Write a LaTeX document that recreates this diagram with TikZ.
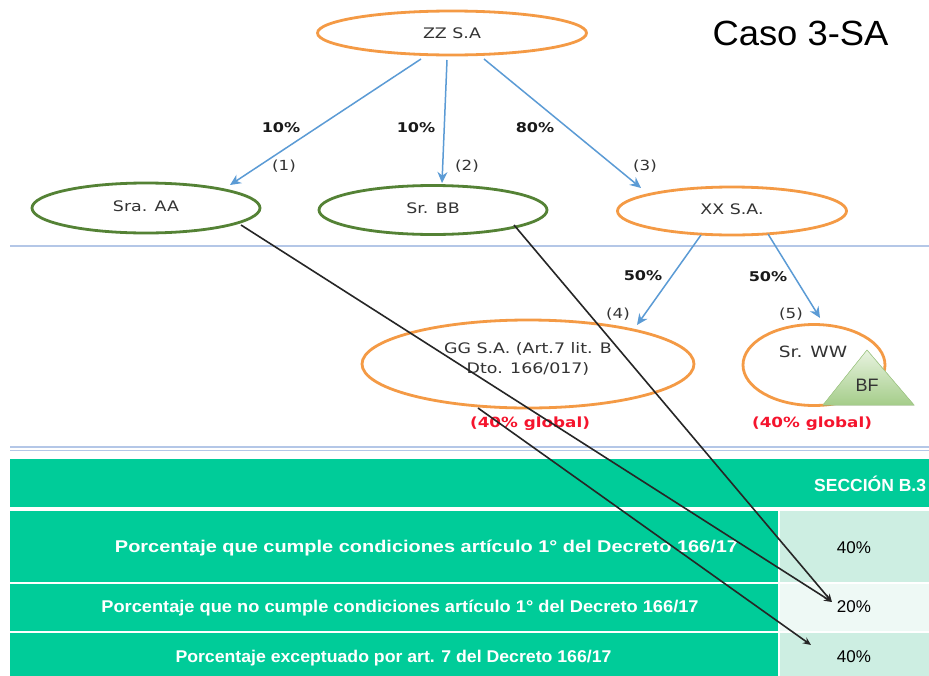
\documentclass[tikz,border=0pt]{standalone}
\usepackage{fontspec}
\usepackage{graphicx}
\setmainfont{Liberation Sans}
\newfontfamily\dv[FakeStretch=1.2]{DejaVu Sans}
\usetikzlibrary{shapes.geometric,calc,arrows.meta}
\definecolor{tealg}{HTML}{00CC99}
\definecolor{cellA}{HTML}{CDEEE2}
\definecolor{cellB}{HTML}{EEF9F5}
\definecolor{orng}{HTML}{F49A45}
\definecolor{grn}{HTML}{548235}
\definecolor{blu}{HTML}{5B9BD5}
\definecolor{rule}{HTML}{B4C7E7}
\definecolor{redg}{HTML}{F5142D}
\definecolor{triT}{HTML}{E8F3E0}
\definecolor{triB}{HTML}{A5CD8A}
\tikzset{
  every node/.style={inner sep=0pt,outer sep=0pt},
  ell/.style={ellipse,draw,line width=2.8pt,inner sep=0pt,font=\dv\fontsize{14.5}{20}\selectfont,text=black!80,align=center},
  org/.style={ell,draw=orng},
  gre/.style={ell,draw=grn},
  pct/.style={font=\dv\bfseries\fontsize{13.4}{16}\selectfont,text=black!90},
  num/.style={font=\dv\fontsize{13.9}{16}\selectfont,text=black!80},
  glob/.style={font=\dv\bfseries\fontsize{14}{16}\selectfont,text=redg},
  barr/.style={draw=blu,line width=1.5pt,-{Stealth[length=11pt,width=10pt]}},
  karr/.style={draw=black!85,line width=1.6pt,-{Stealth[length=8pt,width=7pt]}},
  lab/.style={fill=tealg,text=white,font=\bfseries\fontsize{17}{20}\selectfont},
  val/.style={text=black,font=\fontsize{17}{20}\selectfont},
  hl/.style={draw=rule,line width=1.4pt}
}
\begin{document}
\begin{tikzpicture}[x=1pt,y=-1pt]
\useasboundingbox (0,0) rectangle (929,675);
\fill[white] (0,0) rectangle (929,675);
% rules
\draw[hl] (10,246) -- (929,246);
\draw[hl] (10,447) -- (929,447);
\draw[hl,line width=.8pt] (10,450) -- (929,450);
% table
\node[lab,minimum width=919pt,minimum height=48pt] (head) at (469.5,483) {};
\node[anchor=east,text=white,font=\bfseries\fontsize{17.5}{20}\selectfont] (seccion) at (926,484) {SECCIÓN B.3};
\node[lab,minimum width=768pt,minimum height=71pt] (r1) at (394,546) {};
\node[lab,minimum width=768pt,minimum height=47pt] (r2) at (394,607.5) {};
\node[lab,minimum width=768pt,minimum height=43pt] (r3) at (394,654) {};
\node[lab] (t1) at (426.5,548) {\scalebox{1.173}[1]{Porcentaje que cumple condiciones artículo 1° del Decreto 166/17}};
\node[lab] (t2) at (400,608) {\scalebox{1.073}[1]{Porcentaje que no cumple condiciones artículo 1° del Decreto 166/17}};
\node[lab] (t3) at (393.5,658) {\scalebox{1.04}[1]{Porcentaje exceptuado por art. 7 del Decreto 166/17}};
\node[fill=cellA,minimum width=150pt,minimum height=71pt] (c1) at (855,546) {};
\node[fill=cellB,minimum width=150pt,minimum height=47pt] (c2) at (855,607.5) {};
\node[fill=cellA,minimum width=150pt,minimum height=43pt] (c3) at (855,654) {};
\node[val] (v1) at (854,548) {40\%};
\node[val] (v2) at (854,607) {20\%};
\node[val] (v3) at (854,657) {40\%};
% title
\node[font=\fontsize{35}{40}\selectfont] (title) at (800.5,33) {\scalebox{1.04}[1]{Caso 3-SA}};
% ellipses
\node[org,minimum width=269pt,minimum height=44pt] (zz) at (452,33) {ZZ S.A};
\node[gre,minimum width=228pt,minimum height=50pt] (aa) at (146,208) {\raisebox{3pt}{Sra. AA}};
\node[gre,minimum width=228pt,minimum height=49pt] (bb) at (433,210) {\raisebox{3pt}{Sr. BB}};
\node[org,minimum width=229pt,minimum height=48pt] (xx) at (732,211) {\raisebox{3pt}{XX S.A.}};
\node[org,minimum width=332pt,minimum height=88pt] (gg) at (528,364) {};
\node[font=\dv\fontsize{14.5}{20.5}\selectfont,text=black!80,align=center] (ggt) at (528,359) {GG S.A. (Art.7 lit. B\\Dto. 166/017)};
\node[org,minimum width=142pt,minimum height=81pt] (ww) at (814,365) {};
\node[font=\dv\fontsize{15.5}{18}\selectfont,text=black!80] (wwt) at (813,352) {Sr. WW};
\fill[top color=triT,bottom color=triB,draw=triB,line width=.6pt] (867,350) -- (914,405) -- (823,405) -- cycle;
\node[font=\fontsize{18}{20}\selectfont,text=black!80] (bf) at (867,385) {BF};
% labels
\node[pct] (p1) at (281,128) {10\%};
\node[pct] (p2) at (416,128) {10\%};
\node[pct] (p3) at (535,128) {80\%};
\node[pct] (p4) at (643,276) {50\%};
\node[pct] (p5) at (768,277) {50\%};
\node[num] (n1) at (284,166) {(1)};
\node[num] (n2) at (467,166) {(2)};
\node[num] (n3) at (645,166) {(3)};
\node[num] (n4) at (618,314) {(4)};
\node[num] (n5) at (791,314) {(5)};
\node[glob] (g1) at (530,424) {(40\% global)};
\node[glob] (g2) at (812,424) {(40\% global)};
% arrows
\draw[barr] ($(zz)+(-31,26)$) -- ($(aa)+(84,-23)$);
\draw[barr] ($(zz)+(-5,27)$) -- ($(bb)+(9,-27)$);
\draw[barr] ($(zz)+(32,26)$) -- ($(xx)+(-91,-23)$);
\draw[barr] ($(xx)+(-31,24)$) -- ($(gg)+(109,-39)$);
\draw[barr] ($(xx)+(36,23)$) -- ($(ww)+(6,-47)$);
\draw[karr] ($(aa)+(95,17)$) -- ($(v2)+(-22,-5)$);
\draw[karr] ($(bb)+(81,15)$) -- ($(v2)+(-22,-5)$);
\draw[karr] ($(gg)+(-50,44)$) -- ($(v3)+(-43,-12)$);
\end{tikzpicture}
\end{document}
